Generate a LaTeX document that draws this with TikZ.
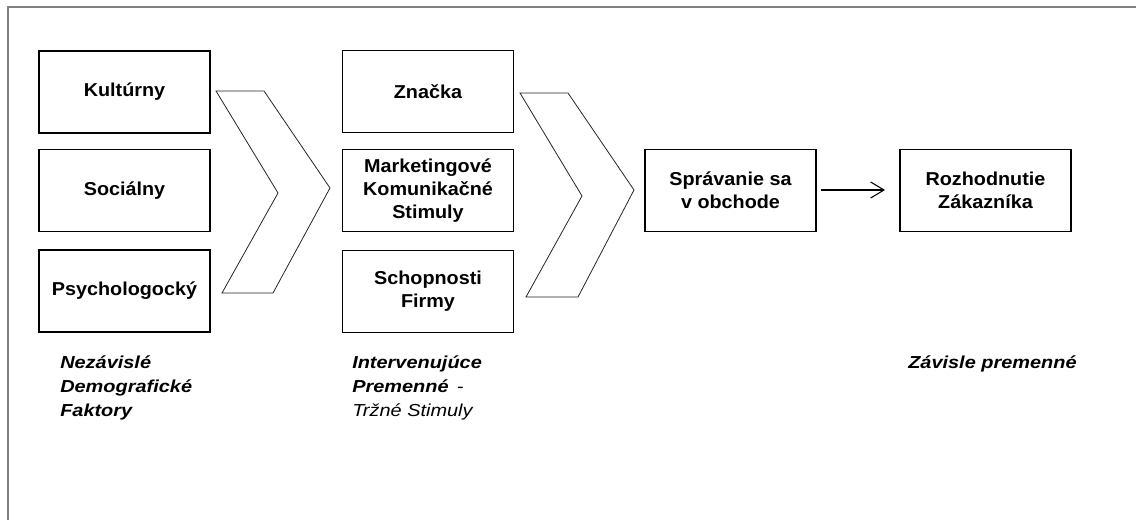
\documentclass[tikz,border=0pt]{standalone}
\usepackage{fontspec}
\setmainfont{Liberation Sans}
\newfontfamily\boxfont[FakeStretch=1.06]{Liberation Sans}
\newfontfamily\labfont[FakeStretch=1.15]{Liberation Sans}
\usetikzlibrary{arrows.meta}
\tikzset{
  x=0.75pt, y=-0.75pt,
  box/.style={draw=black, line width=0.9pt, minimum width=128.25pt, minimum height=61.5pt, inner sep=0pt, align=center, font=\boxfont\bfseries\fontsize{14pt}{17.5pt}\selectfont},
  chev/.style={draw=black!85, line width=0.6pt},
  lab/.style={anchor=north west, align=left, inner sep=0pt, font=\labfont\bfseries\itshape\fontsize{13pt}{18pt}\selectfont},
  frame/.style={draw=black!50, line width=1.8pt}
}
\begin{document}
\begin{tikzpicture}
\useasboundingbox (0,0) rectangle (1136,520);
\fill[white] (0,0) rectangle (1136,520);
\coordinate (ftl) at (8,7);
\coordinate (ftr) at (1136,7);
\coordinate (fbl) at (8,520);
\draw[frame] (ftr) -- (ftl) -- (fbl);

% column 1
\node[box] (kult) at (124.5,92) {Kultúrny};
\node[box] (soc) at (124.5,190.5) {Sociálny};
\node[box] (psy) at (124.5,291) {Psychologocký};

% chevron 1
\draw[chev] (216,91) -- (264,91) -- (330,188) -- (273,293) -- (222,293) -- (278,193) -- cycle;

% column 2
\node[box] (zn) at (428,91.5) {Značka};
\node[box] (mk) at (428,190.5) {Marketingové\\Komunikačné\\Stimuly};
\node[box] (sch) at (428,291.5) {Schopnosti\\Firmy};

% chevron 2
\draw[chev] (520,93) -- (568,93) -- (634,190) -- (578,297) -- (526,297) -- (582,196) -- cycle;

% right boxes
\node[box] (spr) at (730.5,190.5) {Správanie sa\\v obchode};
\node[box] (roz) at (985.5,190.5) {Rozhodnutie\\Zákazníka};

\coordinate (as) at (821,190);
\coordinate (ae) at (885,190);
\draw[line width=1pt, -{Straight Barb[length=10pt,width=12pt,line width=0.8pt]}] (as) -- (ae);

% labels
\node[lab] (l1) at (60,356) {Nezávislé\\Demografické\\Faktory};
\node[lab] (l2) at (352,356) {Intervenujúce\\Premenné \,{\mdseries\upshape -}\\{\mdseries Tržné Stimuly}};
\node[lab] (l3) at (908,356) {Závisle premenné};
\end{tikzpicture}
\end{document}
